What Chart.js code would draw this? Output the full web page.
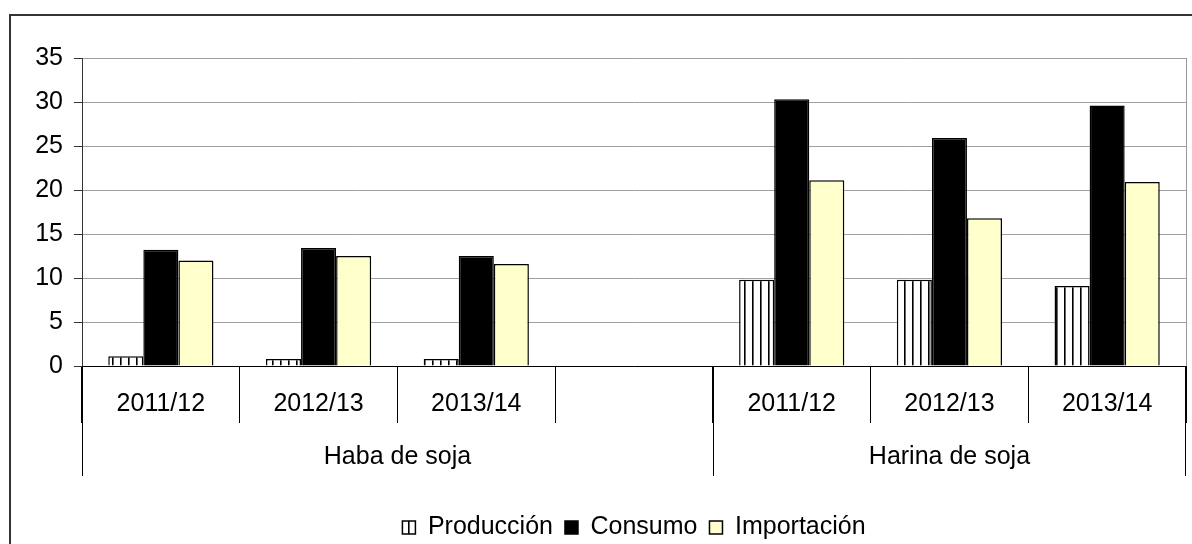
<!DOCTYPE html>
<html>
<head>
<meta charset="utf-8">
<script src="https://cdn.jsdelivr.net/npm/chart.js"></script>
<style>
  html, body { margin: 0; padding: 0; background: #fff; }
  #wrap { width: 1192px; height: 544px; }
</style>
</head>
<body>
<div id="wrap"><canvas id="chart" width="1192" height="544"></canvas></div>
<script>
  // Data
  const categories = ['2011/12', '2012/13', '2013/14', '', '2011/12', '2012/13', '2013/14'];
  const groupNames = ['Haba de soja', 'Harina de soja'];
  const groupFirst = [0, 4];
  const groupLast = [3, 6];
  const produccion = [1.1, 0.8, 0.8, null, 9.8, 9.8, 9.1];
  const consumo = [13.2, 13.4, 12.5, null, 30.3, 25.9, 29.6];
  const importacion = [12.0, 12.5, 11.6, null, 21.1, 16.8, 20.9];
  const yTicks = [0, 5, 10, 15, 20, 25, 30, 35];

  const FONT = "'Liberation Sans', Arial, sans-serif";
  const SIZE = 25;

  // vertical stripe fill for Producción
  const makeStripes = () => {
    const c = document.createElement('canvas');
    c.width = 8; c.height = 8;
    const g = c.getContext('2d');
    g.fillStyle = '#fff';
    g.fillRect(0, 0, 8, 8);
    g.fillStyle = '#000';
    g.fillRect(0, 0, 1.6, 8);
    return g.createPattern(c, 'repeat');
  };

  // frame, right border, group labels and long separators
  const decorations = {
    id: 'decorations',
    beforeDraw(chart) {
      const ctx = chart.ctx;
      ctx.save();
      ctx.strokeStyle = '#333';
      ctx.lineWidth = 2;
      ctx.beginPath();
      ctx.moveTo(10, 544);
      ctx.lineTo(10, 15);
      ctx.lineTo(1192, 15);
      ctx.stroke();
      ctx.restore();
    },
    afterDraw(chart) {
      const ctx = chart.ctx;
      const x = chart.scales.x;
      const area = chart.chartArea;
      const half = (x.getPixelForValue(1) - x.getPixelForValue(0)) / 2;
      ctx.save();
      ctx.strokeStyle = '#999';
      ctx.lineWidth = 1;
      ctx.beginPath();
      ctx.moveTo(area.right + 0.5, area.top);
      ctx.lineTo(area.right + 0.5, area.bottom);
      ctx.stroke();

      ctx.strokeStyle = '#000';
      ctx.beginPath();
      groupFirst.forEach((first) => {
        const left = Math.round(x.getPixelForValue(first) - half) + 0.5;
        ctx.moveTo(left, area.bottom);
        ctx.lineTo(left, area.bottom + 110);
      });
      const rightEdge = Math.round(x.getPixelForValue(categories.length - 1) + half) - 0.5;
      ctx.moveTo(rightEdge, area.bottom);
      ctx.lineTo(rightEdge, area.bottom + 110);
      ctx.stroke();

      ctx.fillStyle = '#000';
      ctx.font = SIZE + 'px ' + FONT;
      ctx.textAlign = 'center';
      ctx.textBaseline = 'middle';
      groupNames.forEach((name, i) => {
        const l = x.getPixelForValue(groupFirst[i]) - half;
        const r = x.getPixelForValue(groupLast[i]) + half;
        ctx.fillText(name, (l + r) / 2, area.bottom + 91);
      });
      ctx.restore();
    }
  };

  const ctx = document.getElementById('chart');
  const chart = new Chart(ctx, {
    type: 'bar',
    data: {
      labels: categories,
      datasets: [
        { label: 'Producción', data: produccion, backgroundColor: makeStripes(), borderColor: '#000', borderWidth: 1.5 },
        { label: 'Consumo', data: consumo, backgroundColor: '#000', borderColor: '#000', borderWidth: 1.5 },
        { label: 'Importación', data: importacion, backgroundColor: '#ffffcc', borderColor: '#000', borderWidth: 1.5 }
      ]
    },
    options: {
      responsive: false,
      animation: false,
      events: [],
      layout: { padding: { left: 0, right: 6, top: 58, bottom: -6 } },
      datasets: { bar: { categoryPercentage: 0.667, barPercentage: 1 } },
      scales: {
        x: {
          offset: true,
          grid: { offset: true, drawOnChartArea: false, drawTicks: true, tickLength: 57, tickColor: '#000', lineWidth: 1 },
          border: { color: '#000', width: 1 },
          ticks: { color: '#000', font: { family: FONT, size: SIZE }, padding: -34, maxRotation: 0, autoSkip: false },
          afterFit: (scale) => { scale.height = 137; }
        },
        y: {
          min: 0,
          max: 35,
          afterBuildTicks: (scale) => { scale.ticks = yTicks.map(v => ({ value: v })); },
          grid: { color: '#a0a0a0', tickColor: '#333', tickLength: 8, lineWidth: 1 },
          border: { color: '#333', width: 1 },
          ticks: { color: '#000', font: { family: FONT, size: SIZE }, padding: 11 },
          afterFit: (scale) => { scale.width = 82; }
        }
      },
      plugins: {
        legend: {
          position: 'bottom',
          fullSize: false,
          labels: {
            color: '#000',
            font: { family: FONT, size: SIZE },
            boxWidth: 13,
            boxHeight: 13,
            padding: 12
          }
        },
        tooltip: { enabled: false }
      }
    },
    plugins: [decorations]
  });
</script>
</body>
</html>
